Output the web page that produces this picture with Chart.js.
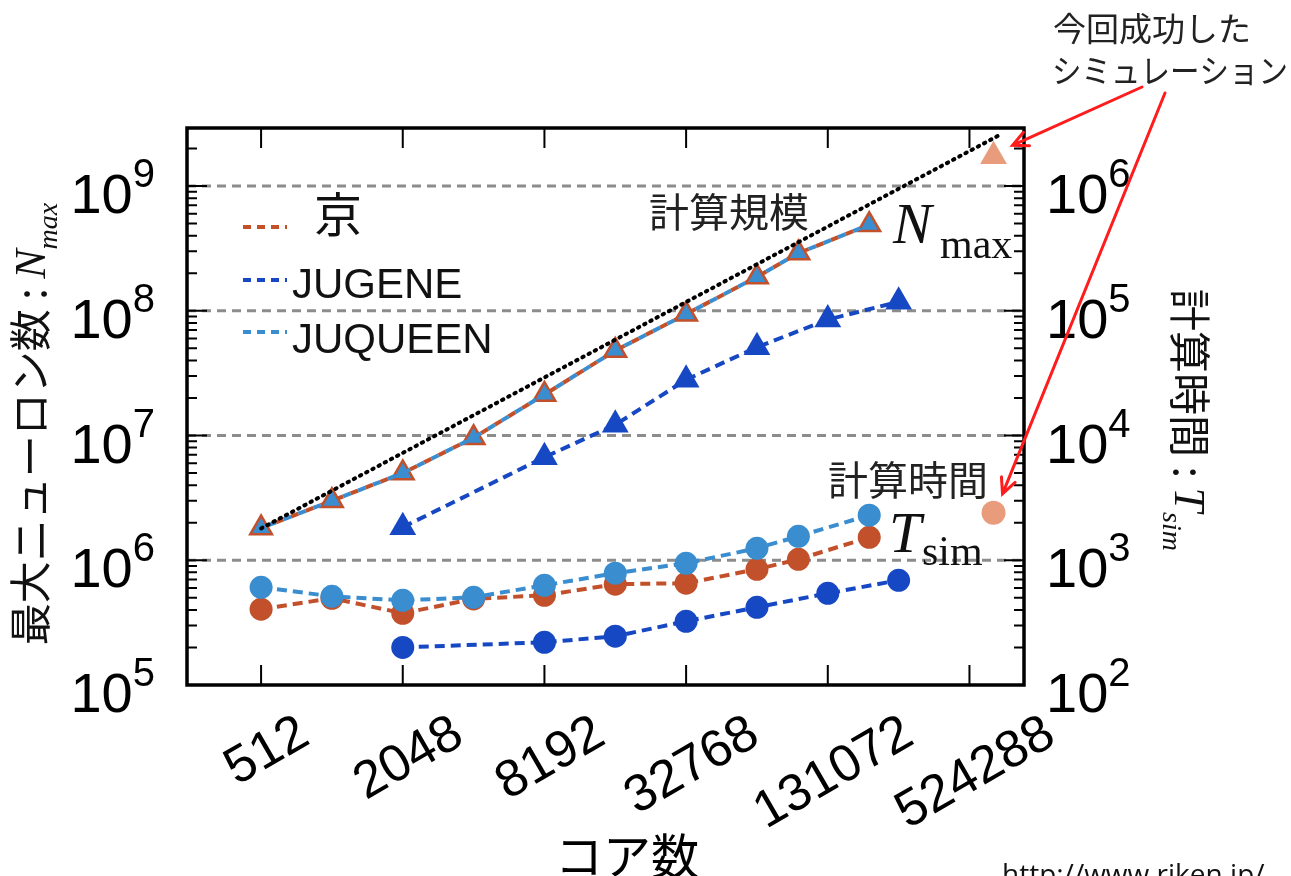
<!DOCTYPE html>
<html lang="ja">
<head>
<meta charset="utf-8">
<title>コア数と最大ニューロン数・計算時間</title>
<script src="https://cdn.jsdelivr.net/npm/chart.js@4.4.1/dist/chart.umd.min.js"></script>
<style>
  html, body { margin: 0; padding: 0; background: #fff; }
  #wrap { width: 1291px; height: 876px; position: relative; }
</style>
</head>
<body>
<div id="wrap"><canvas id="scalingChart"></canvas></div>
<script>
// --- Data ---
const coreCounts   = [512, 1024, 2048, 4096, 8192, 16384, 32768, 65536, 98304, 196608];
const kNmax        = [1.81e6, 3.0e6, 5.0e6, 9.6e6, 2.13e7, 4.8e7, 9.4e7, 1.87e8, 2.9e8, 4.9e8];
const juqueenNmax  = [1.81e6, 3.0e6, 5.0e6, 9.6e6, 2.13e7, 4.8e7, 9.4e7, 1.87e8, 2.9e8, 4.9e8];
const kTsim        = [405, 496, 376, 490, 524, 643, 655, 847, 1018, 1528];
const juqueenTsim  = [607, 514, 477, 505, 630, 787, 946, 1248, 1557, 2297];

const jugeneCores  = [2048, 8192, 16384, 32768, 65536, 131072, 262144];
const jugeneNmax   = [1.84e6, 6.7e6, 1.22e7, 2.8e7, 5.1e7, 8.5e7, 1.18e8];
const jugeneTsim   = [200, 220, 246, 324, 420, 543, 691];

// the full-machine run (今回成功したシミュレーション)
const fullRunCores = [663552];
const fullRunNmax  = [1.73e9];
const fullRunTsim  = [2400];

// ideal scaling guide (計算規模)
const idealCores   = [512, 700000];
const idealNmax    = [1.8e6, 2.55e9];

const xTickValues  = [512, 2048, 8192, 32768, 131072, 524288];
const xTickLabels  = ['512', '2048', '8192', '32768', '131072', '524288'];
const leftExps     = [5, 6, 7, 8, 9];
const rightExps    = [2, 3, 4, 5, 6];
const legendLabels = ['京', 'JUGENE', 'JUQUEEN'];

// --- Colours ---
const RUST = '#c2502a';
const DARK_BLUE = '#1748c4';
const LIGHT_BLUE = '#3a8dcf';
const PEACH = '#e99c7c';
const ARROW_RED = '#ff1c1c';

const CJK = '"Noto Sans CJK JP", "Noto Sans CJK SC", sans-serif';
const SANS = '"Liberation Sans", Arial, sans-serif';
const SERIF = '"Liberation Serif", "DejaVu Serif", serif';

function pts(xs, ys) {
    return xs.map((x, i) => ({ x: x, y: ys[i] }));
}

function series(label, xs, ys, axis, color, extra) {
    return Object.assign({
        label: label,
        data: pts(xs, ys),
        yAxisID: axis,
        borderColor: color,
        backgroundColor: color,
        pointBackgroundColor: color,
        pointBorderColor: color,
        pointBorderWidth: 0,
        borderWidth: 4,
        borderDash: [10, 6],
        tension: 0
    }, extra);
}

// --- Frame, ticks, labels and notes drawn on top ---
function powLabel(ctx, x, tickY, exp, alignRight) {
    ctx.font = '56px ' + SANS;
    const w10 = ctx.measureText('10').width;
    ctx.font = '40px ' + SANS;
    const wSup = ctx.measureText(String(exp)).width;
    const start = alignRight ? x - (w10 + wSup) : x;
    ctx.textAlign = 'left';
    ctx.textBaseline = 'alphabetic';
    ctx.font = '56px ' + SANS;
    ctx.fillText('10', start, tickY + 27);
    ctx.font = '40px ' + SANS;
    ctx.fillText(String(exp), start + w10, tickY + 1);
}

function arrow(ctx, x1, y1, x2, y2) {
    const a = Math.atan2(y2 - y1, x2 - x1);
    const len = 17, spread = 0.45;
    ctx.beginPath();
    ctx.moveTo(x1, y1);
    ctx.lineTo(x2, y2);
    ctx.moveTo(x2 - len * Math.cos(a - spread), y2 - len * Math.sin(a - spread));
    ctx.lineTo(x2, y2);
    ctx.lineTo(x2 - len * Math.cos(a + spread), y2 - len * Math.sin(a + spread));
    ctx.stroke();
}

const gridPlugin = {
    id: 'dashedGrid',
    beforeDatasetsDraw(chart) {
        const { ctx, chartArea: area, scales } = chart;
        ctx.save();
        ctx.strokeStyle = '#8c8c8c';
        ctx.lineWidth = 3;
        ctx.setLineDash([9, 6]);
        leftExps.slice(1).forEach(e => {
            const y = scales.y.getPixelForValue(Math.pow(10, e));
            ctx.beginPath();
            ctx.moveTo(area.left, y);
            ctx.lineTo(area.right, y);
            ctx.stroke();
        });
        ctx.restore();
    }
};

const framePlugin = {
    id: 'frameAndText',
    afterDatasetsDraw(chart) {
        const { ctx, chartArea: area, scales } = chart;
        const xs = scales.x, yl = scales.y, yr = scales.yR;
        ctx.save();

        // frame
        ctx.strokeStyle = '#000';
        ctx.lineWidth = 3.5;
        ctx.strokeRect(area.left, area.top, area.right - area.left, area.bottom - area.top);

        // inward ticks
        ctx.lineWidth = 2;
        ctx.beginPath();
        xTickValues.forEach(v => {
            const px = xs.getPixelForValue(v);
            ctx.moveTo(px, area.top); ctx.lineTo(px, area.top + 20);
            ctx.moveTo(px, area.bottom); ctx.lineTo(px, area.bottom - 20);
        });
        [[yl, leftExps, area.left, 1], [yr, rightExps, area.right, -1]].forEach(([sc, exps, edge, dir]) => {
            exps.forEach(e => {
                for (let m = 1; m <= 9; m++) {
                    const v = m * Math.pow(10, e);
                    if (v > sc.max) break;
                    const py = sc.getPixelForValue(v);
                    const len = m === 1 ? 20 : 10;
                    ctx.moveTo(edge, py); ctx.lineTo(edge + dir * len, py);
                }
            });
        });
        ctx.stroke();

        ctx.fillStyle = '#000';

        // y tick labels
        leftExps.forEach(e => powLabel(ctx, 155, yl.getPixelForValue(Math.pow(10, e)), e, true));
        rightExps.forEach(e => powLabel(ctx, 1046, yr.getPixelForValue(Math.pow(10, e)), e, false));

        // x tick labels (rotated, centred on the tick, top aligned)
        const theta = 30 * Math.PI / 180;
        ctx.font = '52px ' + SANS;
        const h = 0.72 * 52;
        xTickValues.forEach((v, i) => {
            const px = xs.getPixelForValue(v);
            const L = ctx.measureText(xTickLabels[i]).width;
            const H = L * Math.sin(theta) + h * Math.cos(theta);
            ctx.save();
            ctx.translate(px + 4, area.bottom + 25 + H / 2);
            ctx.rotate(-theta);
            ctx.textAlign = 'center';
            ctx.textBaseline = 'alphabetic';
            ctx.fillText(xTickLabels[i], 0, h / 2);
            ctx.restore();
        });

        // x axis title
        ctx.font = '48px ' + CJK;
        ctx.textAlign = 'center';
        ctx.textBaseline = 'middle';
        ctx.fillText('コア数', 627, 856);

        // left axis title: 最大ニューロン数 : N_max
        ctx.save();
        ctx.translate(30, 424);
        ctx.rotate(-Math.PI / 2);
        drawAxisTitle(ctx, '最大ニューロン数', 'N', 'max');
        ctx.restore();

        // right axis title: 計算時間 : T_sim
        ctx.save();
        ctx.translate(1190, 420);
        ctx.rotate(Math.PI / 2);
        drawAxisTitle(ctx, '計算時間', 'T', 'sim');
        ctx.restore();

        // legend
        const legendColors = [RUST, DARK_BLUE, LIGHT_BLUE];
        const legendY = [227, 280, 332];
        ctx.lineWidth = 4;
        ctx.setLineDash([8, 6]);
        legendColors.forEach((c, i) => {
            ctx.strokeStyle = c;
            ctx.beginPath();
            ctx.moveTo(243, legendY[i]);
            ctx.lineTo(287, legendY[i]);
            ctx.stroke();
        });
        ctx.setLineDash([]);
        ctx.fillStyle = '#111';
        ctx.textAlign = 'left';
        ctx.font = '48px ' + CJK;
        ctx.textBaseline = 'middle';
        ctx.fillText(legendLabels[0], 314, 214);
        ctx.font = '42px ' + SANS;
        ctx.textBaseline = 'alphabetic';
        ctx.fillText(legendLabels[1], 292, 298);
        ctx.fillText(legendLabels[2], 292, 353);

        // in-plot notes
        ctx.fillStyle = '#222';
        ctx.font = '40px ' + CJK;
        ctx.textAlign = 'center';
        ctx.textBaseline = 'middle';
        ctx.fillText('計算規模', 729, 212);
        ctx.fillText('計算時間', 908, 480);

        ctx.fillStyle = '#111';
        ctx.textAlign = 'left';
        ctx.textBaseline = 'alphabetic';
        ctx.font = 'italic 58px ' + SERIF;
        ctx.fillText('N', 893, 243);
        ctx.font = '42px ' + SERIF;
        ctx.fillText('max', 940, 258);
        ctx.font = 'italic 58px ' + SERIF;
        ctx.fillText('T', 889, 552);
        ctx.font = '42px ' + SERIF;
        ctx.fillText('sim', 922, 565);

        // note in the top right corner
        ctx.fillStyle = '#222';
        ctx.font = '33px ' + CJK;
        ctx.textBaseline = 'middle';
        ctx.fillText('今回成功した', 1053, 28);
        const line2 = 'シミュレーション';
        const w2 = ctx.measureText(line2).width;
        ctx.save();
        ctx.translate(1052, 70);
        ctx.scale(236 / w2, 1);
        ctx.fillText(line2, 0, 0);
        ctx.restore();

        // arrows to the full-machine points
        const px = xs.getPixelForValue(fullRunCores[0]);
        const pyN = yl.getPixelForValue(fullRunNmax[0]);
        const pyT = yr.getPixelForValue(fullRunTsim[0]);
        ctx.strokeStyle = ARROW_RED;
        ctx.lineWidth = 3;
        ctx.lineCap = 'round';
        arrow(ctx, 1142, 87, px + 19, pyN - 11);
        arrow(ctx, 1165, 93, px + 9, pyT - 19);

        // source line (cut by the bottom edge)
        ctx.fillStyle = '#111';
        ctx.font = '28px "Open Sans", sans-serif';
        ctx.textBaseline = 'alphabetic';
        ctx.fillText('http://www.riken.jp/', 1002, 884);

        ctx.restore();
    }
};

function drawAxisTitle(ctx, jp, sym, sub) {
    ctx.font = '42px ' + CJK;
    const wJp = ctx.measureText(jp).width;
    const wColon = ctx.measureText(' : ').width;
    ctx.font = 'italic 44px ' + SERIF;
    const wSym = ctx.measureText(sym).width;
    ctx.font = 'italic 28px ' + SERIF;
    const wSub = ctx.measureText(sub).width;
    let x = -(wJp + wColon + wSym + wSub) / 2;
    ctx.fillStyle = '#111';
    ctx.textAlign = 'left';
    ctx.textBaseline = 'middle';
    ctx.font = '42px ' + CJK;
    ctx.fillText(jp, x, 0);
    x += wJp;
    ctx.fillText(' : ', x, 0);
    x += wColon;
    ctx.textBaseline = 'alphabetic';
    ctx.font = 'italic 44px ' + SERIF;
    ctx.fillText(sym, x, 15);
    x += wSym;
    ctx.font = 'italic 28px ' + SERIF;
    ctx.fillText(sub, x, 27);
}

// --- Chart ---
const ctx = document.getElementById('scalingChart').getContext('2d');

new Chart(ctx, {
    type: 'line',
    data: {
        datasets: [
            series('計算規模', idealCores, idealNmax, 'y', '#000', {
                borderDash: [1.5, 5.5], borderCapStyle: 'round', borderWidth: 4,
                pointRadius: 0, order: 0
            }),
            series('JUQUEEN N', coreCounts, juqueenNmax, 'y', LIGHT_BLUE, {
                pointStyle: 'triangle', pointRadius: 10, borderDash: [8, 8], borderDashOffset: 8, order: 1
            }),
            series('京 N', coreCounts, kNmax, 'y', RUST, {
                pointStyle: 'triangle', pointRadius: 15, borderDash: [8, 8], order: 2
            }),
            series('JUQUEEN T', coreCounts, juqueenTsim, 'yR', LIGHT_BLUE, {
                pointStyle: 'circle', pointRadius: 11.5, order: 3
            }),
            series('京 T', coreCounts, kTsim, 'yR', RUST, {
                pointStyle: 'circle', pointRadius: 11.5, order: 4
            }),
            series('JUGENE N', jugeneCores, jugeneNmax, 'y', DARK_BLUE, {
                pointStyle: 'triangle', pointRadius: 15.5, order: 5
            }),
            series('JUGENE T', jugeneCores, jugeneTsim, 'yR', DARK_BLUE, {
                pointStyle: 'circle', pointRadius: 11.5, order: 6
            }),
            series('full N', fullRunCores, fullRunNmax, 'y', PEACH, {
                pointStyle: 'triangle', pointRadius: 15.5, showLine: false, order: 7
            }),
            series('full T', fullRunCores, fullRunTsim, 'yR', PEACH, {
                pointStyle: 'circle', pointRadius: 12, showLine: false, order: 8
            })
        ]
    },
    options: {
        responsive: true,
        maintainAspectRatio: false,
        animation: false,
        layout: { padding: { left: 187, right: 267, top: 128, bottom: 191 } },
        plugins: { legend: { display: false }, tooltip: { enabled: false } },
        scales: {
            x: { type: 'logarithmic', min: 248, max: 894000, display: false },
            y: { type: 'logarithmic', position: 'left', min: 1e5, max: 2.92e9, display: false },
            yR: { type: 'logarithmic', position: 'right', min: 1e2, max: 2.92e6, display: false }
        }
    },
    plugins: [gridPlugin, framePlugin]
});
</script>
</body>
</html>
